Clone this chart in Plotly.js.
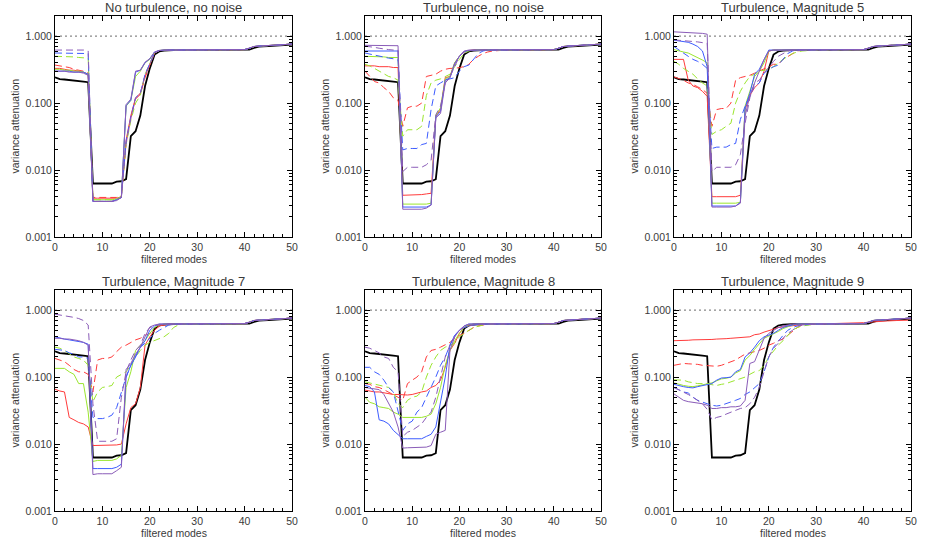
<!DOCTYPE html>
<html>
<head>
<meta charset="utf-8">
<script src="https://cdn.plot.ly/plotly-3.0.1.min.js"></script>
<style>html,body{margin:0;padding:0;background:#fff}</style>
</head>
<body>
<div id="chart" style="width:926px;height:547px"></div>
<script>
// filtered modes: dense steps up to 27, then sparse tail
const headModes = [0,1,2,3,4,5,6,7,8,9,10,11,12,13,14,15,16,17,18,19,20,21,22,23,24,25,26,27];
const tailModes = [30,35,40,41,42,43,45,47,50];
const tailColour = [0.62,0.62,0.63,0.66,0.70,0.71,0.72,0.73,0.76];
const tailBlack = [0.62,0.62,0.62,0.63,0.67,0.70,0.71,0.72,0.75];
const tailRedMag9 = [0.62,0.63,0.65,0.66,0.67,0.68,0.69,0.70,0.71];

const titles = ["No turbulence, no noise", "Turbulence, no noise", "Turbulence, Magnitude 5",
                "Turbulence, Magnitude 7", "Turbulence, Magnitude 8", "Turbulence, Magnitude 9"];

// reference curve, same in every panel
const blackRef = [0.243,0.228,0.225,0.222,0.215,0.212,0.210,0.205,0.0063,0.0063,0.0063,0.0063,0.0063,0.0067,0.0068,0.0073,0.032,0.038,0.065,0.18,0.33,0.53,0.59,0.61,0.62,0.62,0.62,0.62];

// No turbulence, no noise
const p1Red = [0.33,0.33,0.32,0.31,0.31,0.30,0.29,0.27,0.0038,0.0038,0.0038,0.0038,0.0038,0.0038,0.0040,0.028,0.065,0.12,0.14,0.25,0.38,0.56,0.61,0.62,0.62,0.62,0.62,0.62];
const p1RedDash = [0.37,0.36,0.35,0.34,0.32,0.31,0.30,0.28,0.0039,0.0039,0.0039,0.0039,0.0039,0.0039,0.0041,0.025,0.060,0.115,0.135,0.24,0.37,0.56,0.61,0.62,0.62,0.62,0.62,0.62];
const p1Green = [0.32,0.32,0.31,0.31,0.30,0.30,0.29,0.27,0.0036,0.0036,0.0036,0.0036,0.0036,0.0037,0.0040,0.090,0.11,0.25,0.30,0.40,0.45,0.57,0.61,0.62,0.62,0.62,0.62,0.62];
const p1GreenDash = [0.50,0.50,0.50,0.49,0.49,0.48,0.48,0.47,0.0036,0.0036,0.0036,0.0036,0.0036,0.0037,0.0040,0.024,0.055,0.10,0.13,0.27,0.40,0.56,0.61,0.62,0.62,0.62,0.62,0.62];
const p1Blue = [0.30,0.30,0.30,0.30,0.29,0.29,0.29,0.27,0.0034,0.0034,0.0034,0.0034,0.0034,0.0036,0.0039,0.092,0.11,0.29,0.31,0.40,0.46,0.58,0.61,0.62,0.62,0.62,0.62,0.62];
const p1BlueDash = [0.56,0.56,0.56,0.56,0.56,0.56,0.56,0.55,0.0034,0.0034,0.0034,0.0034,0.0034,0.0036,0.0039,0.027,0.062,0.12,0.14,0.27,0.40,0.56,0.61,0.62,0.62,0.62,0.62,0.62];
const p1Purple = [0.30,0.30,0.30,0.29,0.29,0.29,0.28,0.26,0.0034,0.0034,0.0034,0.0034,0.0034,0.0035,0.0039,0.095,0.115,0.30,0.31,0.41,0.46,0.58,0.61,0.62,0.62,0.62,0.62,0.62];
const p1PurpleDash = [0.62,0.62,0.62,0.62,0.62,0.62,0.62,0.60,0.0034,0.0034,0.0034,0.0034,0.0034,0.0036,0.0039,0.025,0.060,0.12,0.14,0.26,0.38,0.56,0.61,0.62,0.62,0.62,0.62,0.62];

// Turbulence, no noise
const p2Red = [0.36,0.36,0.36,0.35,0.35,0.35,0.34,0.34,0.0042,0.0042,0.0042,0.0042,0.0043,0.0044,0.0045,0.063,0.080,0.24,0.25,0.40,0.50,0.58,0.61,0.62,0.62,0.62,0.62,0.62];
const p2RedDash = [0.30,0.25,0.21,0.20,0.17,0.15,0.12,0.11,0.045,0.085,0.09,0.09,0.10,0.25,0.26,0.27,0.30,0.32,0.33,0.33,0.34,0.35,0.38,0.45,0.50,0.55,0.58,0.60];
const p2Green = [0.50,0.50,0.49,0.49,0.49,0.48,0.48,0.48,0.0031,0.0031,0.0031,0.0031,0.0031,0.0031,0.0032,0.065,0.085,0.23,0.25,0.40,0.50,0.58,0.61,0.62,0.62,0.62,0.62,0.62];
const p2GreenDash = [0.38,0.36,0.33,0.30,0.28,0.25,0.24,0.22,0.032,0.040,0.040,0.040,0.045,0.13,0.20,0.22,0.23,0.25,0.27,0.35,0.45,0.55,0.60,0.62,0.62,0.62,0.62,0.62];
const p2Blue = [0.60,0.60,0.60,0.60,0.60,0.60,0.60,0.60,0.0028,0.0028,0.0028,0.0028,0.0028,0.0028,0.0030,0.062,0.075,0.22,0.24,0.39,0.50,0.59,0.61,0.62,0.62,0.62,0.62,0.62];
const p2BlueDash = [0.56,0.54,0.52,0.50,0.48,0.47,0.46,0.44,0.020,0.021,0.021,0.021,0.024,0.025,0.080,0.18,0.20,0.22,0.23,0.24,0.30,0.35,0.37,0.45,0.55,0.60,0.62,0.62];
const p2Purple = [0.73,0.73,0.73,0.73,0.73,0.72,0.72,0.72,0.0026,0.0026,0.0026,0.0026,0.0026,0.0027,0.0030,0.060,0.070,0.20,0.24,0.38,0.50,0.60,0.62,0.62,0.62,0.62,0.62,0.62];
const p2PurpleDash = [0.71,0.70,0.68,0.66,0.64,0.63,0.62,0.62,0.0095,0.011,0.011,0.011,0.011,0.012,0.014,0.067,0.09,0.20,0.25,0.35,0.50,0.58,0.61,0.62,0.62,0.62,0.62,0.62];

// Turbulence, Magnitude 5
const p3Red = [0.45,0.45,0.45,0.22,0.18,0.17,0.15,0.126,0.0040,0.0040,0.0040,0.0040,0.0040,0.0040,0.0042,0.080,0.13,0.17,0.20,0.30,0.60,0.62,0.62,0.62,0.62,0.62,0.62,0.62];
const p3RedDash = [0.246,0.235,0.22,0.20,0.19,0.175,0.16,0.14,0.045,0.080,0.083,0.083,0.10,0.22,0.24,0.25,0.26,0.28,0.30,0.32,0.35,0.38,0.38,0.45,0.50,0.55,0.60,0.62];
const p3Green = [0.63,0.60,0.58,0.56,0.52,0.48,0.44,0.40,0.0032,0.0032,0.0032,0.0032,0.0032,0.0032,0.0033,0.090,0.15,0.25,0.30,0.40,0.60,0.62,0.62,0.62,0.62,0.62,0.62,0.62];
const p3GreenDash = [0.42,0.38,0.33,0.30,0.27,0.23,0.20,0.18,0.034,0.038,0.040,0.045,0.050,0.10,0.15,0.20,0.25,0.27,0.30,0.31,0.32,0.35,0.40,0.45,0.50,0.55,0.58,0.60];
const p3Blue = [0.87,0.85,0.83,0.81,0.76,0.70,0.60,0.35,0.0029,0.0029,0.0029,0.0029,0.0029,0.0029,0.0033,0.085,0.14,0.27,0.32,0.45,0.62,0.62,0.62,0.62,0.62,0.62,0.62,0.62];
const p3BlueDash = [0.70,0.62,0.55,0.50,0.45,0.42,0.38,0.33,0.021,0.022,0.022,0.022,0.024,0.025,0.057,0.090,0.13,0.18,0.20,0.28,0.32,0.35,0.37,0.45,0.55,0.60,0.62,0.62];
const p3Purple = [1.16,1.15,1.15,1.14,1.13,1.12,1.10,1.07,0.0028,0.0028,0.0028,0.0028,0.0028,0.0029,0.0032,0.064,0.13,0.20,0.30,0.45,0.60,0.62,0.62,0.62,0.62,0.62,0.62,0.62];
const p3PurpleDash = [0.88,0.87,0.86,0.85,0.84,0.82,0.80,0.78,0.0095,0.011,0.011,0.011,0.011,0.012,0.017,0.050,0.12,0.20,0.22,0.28,0.35,0.42,0.50,0.55,0.60,0.62,0.62,0.62];

// Turbulence, Magnitude 7
const p4Red = [0.066,0.062,0.060,0.025,0.023,0.021,0.020,0.018,0.0095,0.0095,0.0095,0.0095,0.0096,0.0097,0.010,0.020,0.035,0.040,0.070,0.30,0.40,0.50,0.58,0.60,0.62,0.62,0.62,0.62];
const p4RedDash = [0.19,0.18,0.17,0.15,0.13,0.12,0.12,0.11,0.06,0.18,0.19,0.19,0.20,0.24,0.28,0.30,0.33,0.36,0.38,0.42,0.45,0.50,0.58,0.60,0.62,0.62,0.62,0.62];
const p4Green = [0.135,0.135,0.135,0.12,0.11,0.08,0.08,0.03,0.0055,0.0057,0.0057,0.0057,0.0057,0.0060,0.0068,0.07,0.12,0.25,0.30,0.35,0.45,0.55,0.60,0.62,0.62,0.62,0.62,0.62];
const p4GreenDash = [0.28,0.27,0.25,0.22,0.20,0.19,0.18,0.15,0.043,0.060,0.070,0.072,0.075,0.10,0.11,0.12,0.15,0.20,0.25,0.30,0.33,0.35,0.38,0.40,0.45,0.55,0.60,0.62];
const p4Blue = [0.40,0.38,0.37,0.36,0.35,0.34,0.33,0.31,0.0043,0.0043,0.0043,0.0043,0.0043,0.0045,0.0050,0.10,0.15,0.20,0.28,0.35,0.50,0.58,0.62,0.62,0.62,0.62,0.62,0.62];
const p4BlueDash = [0.26,0.255,0.25,0.23,0.22,0.20,0.20,0.19,0.025,0.024,0.024,0.025,0.027,0.035,0.060,0.10,0.15,0.20,0.28,0.32,0.38,0.45,0.50,0.55,0.60,0.62,0.62,0.62];
const p4Purple = [0.38,0.38,0.37,0.37,0.36,0.35,0.33,0.30,0.0035,0.0036,0.0036,0.0036,0.0036,0.0040,0.0045,0.13,0.16,0.22,0.28,0.40,0.56,0.60,0.62,0.62,0.62,0.62,0.62,0.62];
const p4PurpleDash = [0.87,0.85,0.82,0.80,0.78,0.75,0.70,0.60,0.04,0.011,0.011,0.011,0.011,0.012,0.050,0.12,0.18,0.25,0.30,0.45,0.55,0.58,0.60,0.62,0.62,0.62,0.62,0.62];

// Turbulence, Magnitude 8
const p5Red = [0.064,0.062,0.060,0.060,0.058,0.057,0.055,0.055,0.054,0.054,0.055,0.058,0.060,0.062,0.070,0.075,0.090,0.14,0.25,0.32,0.45,0.55,0.60,0.62,0.62,0.62,0.62,0.62];
const p5RedDash = [0.080,0.078,0.072,0.070,0.065,0.060,0.055,0.050,0.045,0.080,0.090,0.10,0.12,0.20,0.25,0.26,0.28,0.30,0.33,0.38,0.42,0.45,0.50,0.55,0.58,0.60,0.62,0.62];
const p5Green = [0.050,0.042,0.040,0.036,0.035,0.034,0.030,0.028,0.025,0.025,0.025,0.025,0.025,0.026,0.028,0.040,0.070,0.15,0.25,0.35,0.45,0.55,0.60,0.62,0.62,0.62,0.62,0.62];
const p5GreenDash = [0.085,0.082,0.078,0.075,0.072,0.070,0.060,0.040,0.035,0.045,0.050,0.052,0.060,0.10,0.15,0.20,0.25,0.28,0.30,0.32,0.40,0.45,0.50,0.55,0.58,0.60,0.62,0.62];
const p5Blue = [0.075,0.072,0.060,0.023,0.022,0.020,0.016,0.014,0.012,0.012,0.012,0.012,0.012,0.013,0.014,0.018,0.040,0.10,0.30,0.42,0.50,0.58,0.62,0.62,0.62,0.62,0.62,0.62];
const p5BlueDash = [0.14,0.14,0.12,0.11,0.09,0.07,0.06,0.03,0.016,0.020,0.022,0.030,0.035,0.050,0.070,0.10,0.15,0.20,0.30,0.42,0.50,0.55,0.58,0.60,0.62,0.62,0.62,0.62];
const p5Purple = [0.070,0.068,0.067,0.065,0.055,0.040,0.030,0.018,0.0087,0.0088,0.0088,0.0088,0.0088,0.0090,0.0095,0.014,0.015,0.016,0.25,0.40,0.50,0.58,0.62,0.62,0.62,0.62,0.62,0.62];
const p5PurpleDash = [0.28,0.27,0.25,0.23,0.20,0.19,0.14,0.12,0.013,0.015,0.016,0.018,0.020,0.025,0.030,0.050,0.10,0.20,0.30,0.40,0.50,0.55,0.58,0.60,0.62,0.62,0.62,0.62];

// Turbulence, Magnitude 9
const p6Red = [0.35,0.35,0.355,0.355,0.36,0.36,0.36,0.365,0.365,0.37,0.37,0.375,0.38,0.385,0.39,0.40,0.40,0.43,0.44,0.47,0.50,0.52,0.55,0.56,0.58,0.59,0.60,0.61];
const p6RedDash = [0.15,0.155,0.16,0.158,0.157,0.155,0.15,0.148,0.145,0.145,0.15,0.16,0.17,0.18,0.20,0.22,0.23,0.24,0.25,0.27,0.30,0.32,0.35,0.37,0.42,0.48,0.55,0.60];
const p6Green = [0.082,0.078,0.075,0.073,0.072,0.074,0.076,0.079,0.082,0.088,0.094,0.096,0.10,0.115,0.125,0.18,0.21,0.26,0.32,0.38,0.41,0.44,0.48,0.53,0.57,0.60,0.62,0.62];
const p6GreenDash = [0.091,0.091,0.09,0.085,0.082,0.08,0.08,0.08,0.077,0.075,0.078,0.08,0.085,0.09,0.095,0.10,0.11,0.12,0.125,0.15,0.20,0.25,0.30,0.35,0.42,0.50,0.55,0.58];
const p6Blue = [0.078,0.074,0.072,0.070,0.069,0.072,0.075,0.078,0.080,0.090,0.097,0.098,0.10,0.12,0.13,0.20,0.23,0.28,0.35,0.40,0.42,0.45,0.50,0.55,0.58,0.60,0.62,0.62];
const p6BlueDash = [0.070,0.065,0.060,0.058,0.050,0.045,0.042,0.040,0.038,0.037,0.038,0.040,0.043,0.045,0.048,0.055,0.060,0.070,0.080,0.12,0.20,0.28,0.35,0.42,0.50,0.55,0.58,0.60];
const p6Purple = [0.056,0.050,0.045,0.043,0.042,0.042,0.040,0.038,0.034,0.034,0.035,0.035,0.036,0.036,0.037,0.045,0.16,0.17,0.25,0.38,0.45,0.50,0.55,0.58,0.60,0.62,0.62,0.62];
const p6PurpleDash = [0.070,0.065,0.060,0.055,0.050,0.045,0.040,0.033,0.023,0.025,0.026,0.028,0.030,0.032,0.034,0.035,0.040,0.050,0.070,0.12,0.20,0.27,0.32,0.38,0.45,0.50,0.58,0.60];

const panels = [
  [p1Red, p1RedDash, p1Green, p1GreenDash, p1Blue, p1BlueDash, p1Purple, p1PurpleDash],
  [p2Red, p2RedDash, p2Green, p2GreenDash, p2Blue, p2BlueDash, p2Purple, p2PurpleDash],
  [p3Red, p3RedDash, p3Green, p3GreenDash, p3Blue, p3BlueDash, p3Purple, p3PurpleDash],
  [p4Red, p4RedDash, p4Green, p4GreenDash, p4Blue, p4BlueDash, p4Purple, p4PurpleDash],
  [p5Red, p5RedDash, p5Green, p5GreenDash, p5Blue, p5BlueDash, p5Purple, p5PurpleDash],
  [p6Red, p6RedDash, p6Green, p6GreenDash, p6Blue, p6BlueDash, p6Purple, p6PurpleDash]
];

const colours = ["#ff3b3b", "#ff3b3b", "#9be62e", "#9be62e", "#3d5cff", "#3d5cff", "#8a5cb8", "#8a5cb8"];
const W = 926, H = 547;
const colPx = [[55, 292], [365, 601], [674, 911]];
const rowPx = [[16, 237], [290, 511]];
const allModes = headModes.concat(tailModes);
const txt = "#3a3a3a";
const fnt = "Liberation Sans, Arial, sans-serif";

let traces = [];
let layout = {
  width: W, height: H,
  margin: {l: 0, r: 0, t: 0, b: 0},
  paper_bgcolor: "#fff", plot_bgcolor: "#fff",
  showlegend: false,
  annotations: []
};

for (let p = 0; p < 6; p++) {
  const n = p + 1;
  const sfx = n === 1 ? "" : String(n);
  const xa = "x" + sfx, ya = "y" + sfx;
  const c = colPx[p % 3], r = rowPx[Math.floor(p / 3)];

  // dotted unity line
  traces.push({x: [0, 50], y: [1, 1], xaxis: xa, yaxis: ya, mode: "lines",
    line: {color: "#888", width: 1.2, dash: "2px,3px"}, hoverinfo: "skip"});

  traces.push({x: allModes, y: blackRef.concat(tailBlack), xaxis: xa, yaxis: ya, mode: "lines",
    line: {color: "#000", width: 1.8}});

  panels[p].forEach(function(s, i) {
    const tail = (p === 5 && i === 0) ? tailRedMag9 : tailColour;
    traces.push({x: allModes, y: s.concat(tail), xaxis: xa, yaxis: ya, mode: "lines",
      line: {color: colours[i], width: 1, dash: i % 2 ? "7px,4px" : "solid"}});
  });

  layout["xaxis" + sfx] = {
    domain: [c[0] / W, c[1] / W], anchor: ya, range: [0, 50],
    tick0: 0, dtick: 10, ticks: "inside", ticklen: 5, tickcolor: "#000",
    minor: {dtick: 2, ticks: "inside", ticklen: 3, tickcolor: "#000"},
    showline: true, linecolor: "#000", linewidth: 1, mirror: "ticks",
    showgrid: false, zeroline: false,
    tickfont: {family: fnt, size: 10.5, color: txt}
  };
  layout["yaxis" + sfx] = {
    domain: [1 - r[1] / H, 1 - r[0] / H], anchor: xa, type: "log",
    range: [-3, Math.log10(2)], dtick: 1, tickformat: ".3f",
    ticks: "inside", ticklen: 5, tickcolor: "#000",
    minor: {dtick: "D1", ticks: "inside", ticklen: 3, tickcolor: "#000"},
    showline: true, linecolor: "#000", linewidth: 1, mirror: "ticks",
    showgrid: false, zeroline: false,
    tickfont: {family: fnt, size: 10.5, color: txt}
  };

  layout.annotations.push({text: titles[p], xref: xa + " domain", yref: ya + " domain",
    x: 0.5, y: 1, yanchor: "bottom", yshift: -1, showarrow: false,
    font: {family: fnt, size: 13, color: txt}});
  layout.annotations.push({text: "filtered modes", xref: xa + " domain", yref: ya + " domain",
    x: 0.5, y: 0, yanchor: "top", yshift: -14, showarrow: false,
    font: {family: fnt, size: 10.5, color: txt}});
  layout.annotations.push({text: "variance attenuation", xref: xa + " domain", yref: ya + " domain",
    x: 0, y: 0.5, xanchor: "right", xshift: -33, textangle: -90, showarrow: false,
    font: {family: fnt, size: 10.5, color: txt}});
}

Plotly.newPlot("chart", traces, layout, {staticPlot: true});
</script>
</body>
</html>
